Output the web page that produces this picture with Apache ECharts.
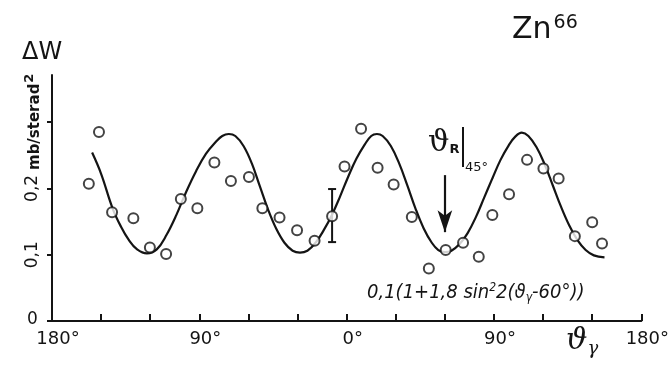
<!DOCTYPE html>
<html>
<head>
<meta charset="utf-8">
<script src="https://cdn.jsdelivr.net/npm/echarts@6/dist/echarts.min.js"></script>
<style>html,body{margin:0;padding:0;background:#fff;}#c{width:672px;height:365px;}</style>
</head>
<body>
<div id="c"></div>
<script>
// measured points: angle (deg) and ΔW (mb/sterad^2)
const pointAngles = [-157.5,-151.3,-143.3,-130.3,-120.2,-110.3,-101.3,-91.2,-80.8,-70.7,-59.7,-51.5,-41.0,-30.3,-19.6,-8.9,-1.3,8.8,18.9,28.7,39.8,50.2,60.5,71.1,80.7,89.0,99.2,110.2,120.2,129.5,139.4,150.0,156.0];
const pointValues = [0.207,0.285,0.164,0.155,0.111,0.101,0.184,0.170,0.239,0.211,0.217,0.170,0.156,0.137,0.121,0.158,0.233,0.290,0.231,0.206,0.157,0.079,0.107,0.118,0.097,0.160,0.191,0.243,0.230,0.215,0.128,0.149,0.117];
// error bar on one point
const errAngle = [-8.9];
const errLow = [0.119];
const errHigh = [0.199];
// fitted curve 0,1(1+1,8 sin^2 2(θ-60°)) as drawn
const curveAngles = [-155.5,-150,-143,-138,-133,-128,-122,-116,-110,-104,-98,-92,-86,-80,-76,-72,-68,-63,-58,-53,-48,-43,-38,-33,-28.5,-24,-19,-14,-9,-4,1,6,11,15,18.5,22,27,32,37,42,47,52,56,60,64,69,74,79,84,89,94,99,103,107,111,116,121,126,131,136,141,146,151,157.5];
const curveValues = [0.254,0.222,0.170,0.143,0.122,0.108,0.102,0.108,0.130,0.160,0.195,0.226,0.252,0.270,0.279,0.282,0.279,0.264,0.238,0.203,0.168,0.139,0.118,0.106,0.103,0.106,0.118,0.137,0.160,0.188,0.218,0.245,0.266,0.279,0.282,0.279,0.264,0.238,0.205,0.170,0.140,0.118,0.107,0.104,0.106,0.116,0.133,0.157,0.186,0.215,0.243,0.265,0.278,0.284,0.279,0.262,0.236,0.204,0.172,0.144,0.122,0.107,0.099,0.096];
// resonance arrow (θ_R at 45°)
const arrowAngle = 60;
const arrowFrom = 0.220;
const arrowTo = 0.134;
// axis ticks / labels
const xTickValues = [-180,-150,-120,-90,-60,-30,0,30,60,90,120,150,180];
const xLabelValues = [-180,-90,0,90,180];
const yTickValues = [0,0.1,0.2,0.3];
const yLabelValues = [0.1,0.2];

const FONT = 'DejaVu Sans';
const INK = '#141414';

const chart = echarts.init(document.getElementById('c'), null, {renderer:'canvas'});

const points = pointAngles.map((a,i)=>[a,pointValues[i]]);
const curve = curveAngles.map((a,i)=>[a,curveValues[i]]);
const errs = errAngle.map((a,i)=>[a,errLow[i],errHigh[i]]);

chart.setOption({
  animation:false,
  backgroundColor:'#fff',
  grid:{left:52,right:23,top:75,bottom:44},
  xAxis:{
    type:'value',min:-180,max:180,interval:30,
    axisLine:{onZero:false,lineStyle:{color:INK,width:2}},
    axisTick:{inside:true,length:7,lineStyle:{color:INK,width:2},customValues:xTickValues},
    axisLabel:{customValues:xLabelValues,color:INK,fontFamily:FONT,fontSize:18,margin:9,
      padding:[0,0,0,12],
      formatter:v=>Math.abs(v)+'°'},
    splitLine:{show:false}
  },
  yAxis:{
    type:'value',min:0,max:0.371,interval:0.1,
    axisLine:{show:true,onZero:false,lineStyle:{color:INK,width:2}},
    axisTick:{show:true,length:5,lineStyle:{color:INK,width:2},customValues:yTickValues},
    axisLabel:{customValues:yLabelValues,rotate:90,color:INK,fontFamily:FONT,fontSize:17,margin:11,
      formatter:v=>String(v).replace('.',',')},
    splitLine:{show:false}
  },
  series:[
    {type:'line',data:curve,smooth:0.4,symbol:'none',z:2,
     lineStyle:{color:INK,width:2.2},
     markLine:{silent:true,symbol:['none','arrow'],symbolSize:[11,22],
       label:{show:false},lineStyle:{color:INK,width:2.2,type:'solid'},
       data:[[{coord:[arrowAngle,arrowFrom]},{coord:[arrowAngle,arrowTo]}]]}},
    {type:'custom',z:3,data:errs,
     renderItem:function(params,api){
       const top = api.coord([api.value(0),api.value(2)]);
       const bot = api.coord([api.value(0),api.value(1)]);
       const w = 4;
       const st = {stroke:INK,lineWidth:2};
       return {type:'group',children:[
         {type:'line',shape:{x1:top[0],y1:top[1],x2:bot[0],y2:bot[1]},style:st},
         {type:'line',shape:{x1:top[0]-w,y1:top[1],x2:top[0]+w,y2:top[1]},style:st},
         {type:'line',shape:{x1:bot[0]-w,y1:bot[1],x2:bot[0]+w,y2:bot[1]},style:st}
       ]};
     }},
    {type:'scatter',data:points,symbol:'circle',symbolSize:10,z:4,
     itemStyle:{color:'#fff',borderColor:INK,borderWidth:2}}
  ],
  graphic:[
    {type:'text',left:512,top:14,style:{text:'Zn{s|66}',fill:INK,font:'30px "DejaVu Sans"',
      rich:{s:{fontSize:19,fontFamily:FONT,verticalAlign:'top',padding:[0,0,14,2]}}}},
    {type:'text',left:22,top:41,style:{text:'ΔW',fill:INK,font:'24px "DejaVu Sans"'}},
    {type:'text',x:35,y:170,rotation:Math.PI/2,style:{text:'mb/sterad{s|2}',fill:INK,
      font:'bold 15px "DejaVu Sans"',verticalAlign:'middle',align:'left',
      rich:{s:{fontSize:13,fontWeight:'bold',fontFamily:FONT,padding:[0,0,10,1]}}}},
    {type:'text',left:27,top:311,style:{text:'0',fill:INK,font:'17px "DejaVu Sans"'}},
    {type:'text',left:428,top:128,style:{text:'ϑ{r|R}',fill:INK,font:'30px "DejaVu Serif"',
      rich:{r:{fontSize:13,fontWeight:'bold',fontFamily:FONT,padding:[14,0,0,0]}}}},
    {type:'line',shape:{x1:463,y1:127,x2:463,y2:167},style:{stroke:INK,lineWidth:2}},
    {type:'text',left:465,top:161,style:{text:'45°',fill:INK,font:'13px "DejaVu Sans"'}},
    {type:'text',left:367,top:282,style:{text:'0,1(1+1,8 sin{s|2}2(ϑ{b|γ}-60°))',fill:INK,
      font:'italic 20px "DejaVu Sans Condensed"',
      rich:{s:{fontSize:12,fontStyle:'italic',fontFamily:'DejaVu Sans Condensed',padding:[0,0,10,0]},
            b:{fontSize:12,fontStyle:'italic',fontFamily:'DejaVu Sans Condensed',padding:[9,0,0,0]}}}},
    {type:'text',left:566,top:326,style:{text:'ϑ{b|γ}',fill:INK,font:'italic 30px "DejaVu Serif"',
      rich:{b:{fontSize:18,fontStyle:'italic',fontFamily:'DejaVu Serif',padding:[16,0,0,0]}}}}
  ]
});
</script>
</body>
</html>
